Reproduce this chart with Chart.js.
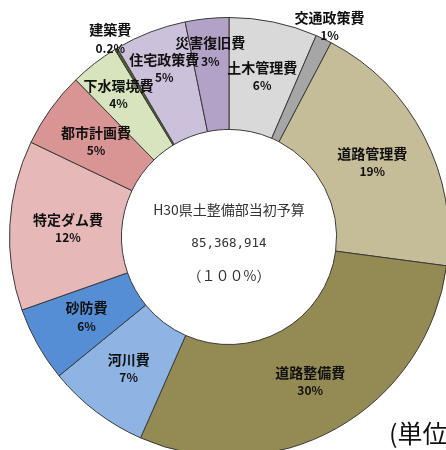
<!DOCTYPE html>
<html>
<head>
<meta charset="utf-8">
<script src="https://cdn.jsdelivr.net/npm/chart.js@4"></script>
<style>
  html, body { margin: 0; padding: 0; background: #fff; overflow: hidden; }
  #wrap { position: relative; width: 446px; height: 450px; overflow: hidden; }
  #budgetChart { position: absolute; left: 0; top: 0; }
  #unit { position: absolute; left: 389px; top: 420px; font-family: "Noto Sans CJK JP", sans-serif; font-size: 25px; color: #111; white-space: nowrap; line-height: 1; }
</style>
</head>
<body>
<div id="wrap">
  <canvas id="budgetChart" width="460" height="470"></canvas>
  <div id="unit">(単位：千円)</div>
</div>
<script>
// budget categories, clockwise from the top
const categories = ['土木管理費', '交通政策費', '道路管理費', '道路整備費', '河川費', '砂防費', '特定ダム費', '都市計画費', '下水環境費', '建築費', '住宅政策費', '災害復旧費'];
// share of the total budget (%)
const shares = [6.5, 1.2, 19.4, 29.5, 7.5, 5.5, 12.5, 5.6, 3.6, 0.2, 5.3, 3.2];
// percentage labels printed on the chart
const shareLabels = ['6%', '1%', '19%', '30%', '7%', '6%', '12%', '5%', '4%', '0.2%', '5%', '3%'];
const sliceColors = ['#d9d9d9', '#a6a6a6', '#c4bd97', '#948a54', '#8db4e2', '#558ed5', '#e6b9b8', '#d99594', '#d7e4bd', '#4f6228', '#ccc1da', '#b3a2c7'];

// where each label sits, as a fraction of the way from the inner to the outer edge
const labelDepth = [0.5, 1.12, 0.48, 0.52, 0.52, 0.5, 0.48, 0.5, 0.65, 1.1, 0.65, 0.7];

const centerLines = ['H30県土整備部当初予算', '85,368,914', '（１００%）'];

// Draws the category name and percentage on each slice
const sliceLabelPlugin = {
    id: 'sliceLabels',
    afterDatasetsDraw(chart) {
        const ctx = chart.ctx;
        const meta = chart.getDatasetMeta(0);
        ctx.save();
        ctx.textAlign = 'center';
        ctx.textBaseline = 'middle';
        ctx.fillStyle = '#111';
        meta.data.forEach((arc, i) => {
            const mid = (arc.startAngle + arc.endAngle) / 2;
            const r = arc.innerRadius + (arc.outerRadius - arc.innerRadius) * labelDepth[i];
            const x = arc.x + Math.cos(mid) * r;
            const y = arc.y + Math.sin(mid) * r;
            ctx.font = 'bold 14px "Noto Sans CJK JP", sans-serif';
            ctx.fillText(categories[i], x, y - 9);
            ctx.font = 'bold 12px "Noto Sans CJK JP", sans-serif';
            ctx.fillText(shareLabels[i], x, y + 9);
        });

        // center caption
        const cx = meta.data[0].x;
        const cy = meta.data[0].y;
        ctx.fillStyle = '#333';
        ctx.font = '14px "Noto Sans CJK JP", sans-serif';
        ctx.fillText(centerLines[0], cx, cy - 27);
        ctx.font = '12.5px "DejaVu Sans Mono", monospace';
        ctx.fillText(centerLines[1], cx, cy + 7);
        ctx.font = '14px "Noto Sans CJK JP", sans-serif';
        ctx.fillText(centerLines[2], cx, cy + 39);
        ctx.restore();
    }
};

const ctx = document.getElementById('budgetChart').getContext('2d');
new Chart(ctx, {
    type: 'doughnut',
    data: {
        labels: categories,
        datasets: [{
            data: shares,
            backgroundColor: sliceColors,
            borderColor: '#3a3a3a',
            borderWidth: 1
        }]
    },
    options: {
        responsive: false,
        animation: false,
        cutout: '49%',
        layout: {
            padding: { left: 9, top: 17, right: 11, bottom: 13 }
        },
        plugins: {
            legend: { display: false },
            tooltip: { enabled: false }
        }
    },
    plugins: [sliceLabelPlugin]
});
</script>
</body>
</html>
